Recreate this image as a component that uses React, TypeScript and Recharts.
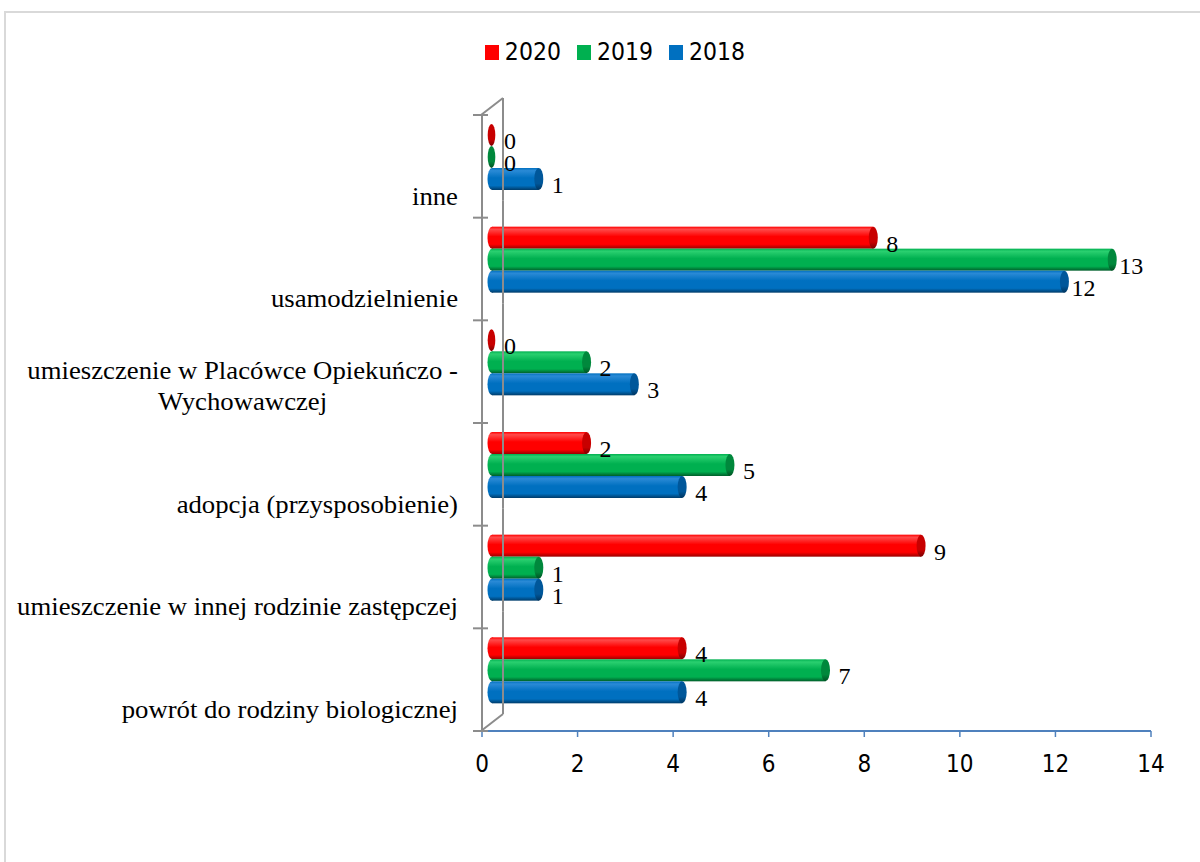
import React from 'react';
import { BarChart, Bar, XAxis, YAxis, Legend, LabelList } from 'recharts';

// ---------- data ----------
const categories = [
  'inne',
  'usamodzielnienie',
  'umieszczenie w Placówce Opiekuńczo - Wychowawczej',
  'adopcja (przysposobienie)',
  'umieszczenie w innej rodzinie zastępczej',
  'powrót do rodziny biologicznej',
];
const values2020 = [0, 8, 0, 2, 9, 4];
const values2019 = [0, 13, 2, 5, 1, 7];
const values2018 = [1, 12, 3, 4, 1, 4];
const seriesNames = ['2020', '2019', '2018'];
const xTicks = [0, 2, 4, 6, 8, 10, 12, 14];

const data = categories.map((c, i) => ({
  category: c,
  s2020: values2020[i],
  s2019: values2019[i],
  s2018: values2018[i],
}));

// ---------- styles ----------
const SERIF = '"Liberation Serif", "Times New Roman", serif';
const SANS = '"DejaVu Sans Condensed", "Noto Sans", sans-serif';

type Pal = { id: string; main: string; light: string; dark: string; cap: string; capDark: string };
const palettes: Record<string, Pal> = {
  s2020: { id: 'r', main: '#ff0000', light: '#ff4a4a', dark: '#9a0000', cap: '#c80000', capDark: '#7a0000' },
  s2019: { id: 'g', main: '#00b050', light: '#2ad070', dark: '#005e2a', cap: '#00883c', capDark: '#004f22' },
  s2018: { id: 'b', main: '#0070c0', light: '#2a8ad6', dark: '#003c6a', cap: '#00579a', capDark: '#00345e' },
};
const legendColors: Record<string, string> = {
  '2020': palettes.s2020.main,
  '2019': palettes.s2019.main,
  '2018': palettes.s2018.main,
};

const Cylinder = (props: any) => {
  const pal: Pal = props.pal;
  const x = Number(props.x) || 0;
  const y = Number(props.y) || 0;
  const w = Math.max(0, Number(props.width) || 0);
  const h = Number(props.height) || 0;
  const top = y - 9;
  const cy = top + h / 2;
  const xs = x + 10;
  const xe = x + w + 9;
  const rx = 4.5;
  const bodyId = `body-${pal.id}`;
  const capId = `cap-${pal.id}`;
  const defs = (
    <defs>
      <linearGradient id={bodyId} x1="0" y1="0" x2="0" y2="1">
        <stop offset="0" stopColor={pal.main} />
        <stop offset="0.12" stopColor={pal.light} />
        <stop offset="0.45" stopColor={pal.main} />
        <stop offset="0.8" stopColor={pal.main} />
        <stop offset="1" stopColor={pal.dark} />
      </linearGradient>
      <linearGradient id={capId} x1="0" y1="0" x2="0" y2="1">
        <stop offset="0" stopColor={pal.cap} />
        <stop offset="0.7" stopColor={pal.cap} />
        <stop offset="1" stopColor={pal.capDark} />
      </linearGradient>
    </defs>
  );
  if (w <= 0.5) {
    return (
      <g>
        {defs}
        <ellipse cx={x + 9.5} cy={cy} rx={3.8} ry={h / 2} fill={`url(#${capId})`} />
      </g>
    );
  }
  return (
    <g>
      {defs}
      <ellipse cx={xs} cy={cy} rx={rx} ry={h / 2} fill={`url(#${bodyId})`} />
      <rect x={xs} y={top} width={Math.max(0, xe - xs)} height={h} fill={`url(#${bodyId})`} />
      <ellipse cx={xe} cy={cy} rx={rx} ry={h / 2} fill={`url(#${capId})`} />
    </g>
  );
};

const renderLabel = (props: any) => {
  const x = Number(props.x) || 0;
  const y = Number(props.y) || 0;
  const w = Math.max(0, Number(props.width) || 0);
  const h = Number(props.height) || 0;
  return (
    <text
      x={x + w + 28}
      y={y + h / 2 - 3}
      textAnchor="middle"
      dominantBaseline="central"
      fontFamily={SERIF}
      fontSize={24}
      fill="#000"
    >
      {props.value}
    </text>
  );
};

let measureCtx: CanvasRenderingContext2D | null = null;
const measureText = (t: string, font: string) => {
  if (!measureCtx) measureCtx = document.createElement('canvas').getContext('2d');
  if (!measureCtx) return t.length * 11;
  measureCtx.font = font;
  return measureCtx.measureText(t).width;
};

const wrapLabel = (s: string, maxChars: number) => {
  const words = s.split(' ');
  const lines: string[] = [];
  let cur = '';
  for (const wd of words) {
    const next = cur ? cur + ' ' + wd : wd;
    if (next.length > maxChars && cur) {
      lines.push(cur);
      cur = wd;
    } else cur = next;
  }
  if (cur) lines.push(cur);
  return lines;
};

const WALL = '#8c8c8c';
const SX = 1.07;

const CategoryTick = (props: any) => {
  const { x, y, payload, index } = props;
  const half = typeof payload?.offset === 'number' && payload.offset > 0 ? payload.offset : 51.33;
  const lines = wrapLabel(String(payload.value), 40);
  const font = `25px "Liberation Serif"`;
  const maxW = Math.max(...lines.map((l) => measureText(l, font))) * SX;
  const right = x - 16;
  const multi = lines.length > 1;
  const lineH = 31;
  const lastY = y + 30;
  const axisX = x + 8;
  const backX = axisX + 21;
  const depth = 17;
  const isLast = index === categories.length - 1;
  return (
    <g>
      {/* back wall of the 3D frame */}
      <line x1={backX} x2={backX} y1={y - half - depth} y2={y + half - depth} stroke={WALL} strokeWidth={2} />
      {index === 0 && (
        <line x1={axisX - 1} y1={y - half} x2={backX} y2={y - half - depth} stroke={WALL} strokeWidth={2} />
      )}
      {isLast && (
        <line x1={axisX - 1} y1={y + half} x2={backX} y2={y + half - depth} stroke={WALL} strokeWidth={2} />
      )}
      {index === 0 && (
        <line x1={x - 1} x2={x + 14} y1={y - half} y2={y - half} stroke={WALL} strokeWidth={2} />
      )}
      <line x1={x - 1} x2={x + 14} y1={y + half} y2={y + half} stroke={WALL} strokeWidth={2} />
      {lines.map((l, i) => {
        const tx = multi ? right - maxW / 2 : right;
        const ty = lastY - (lines.length - 1 - i) * lineH;
        return (
          <text
            key={i}
            transform={`translate(${tx},${ty}) scale(${SX},1)`}
            x={0}
            y={0}
            textAnchor={multi ? 'middle' : 'end'}
            dominantBaseline="central"
            fontFamily={SERIF}
            fontSize={25}
            fill="#000"
          >
            {l}
          </text>
        );
      })}
    </g>
  );
};

const LegendContent = (props: any) => {
  const raw: any[] = props.payload && props.payload.length ? props.payload : [];
  const items = seriesNames.map((n) => {
    const found = raw.find((p: any) => String(p.value) === n);
    return { value: n, color: found?.color || legendColors[n] };
  });
  return (
    <div style={{ display: 'flex', justifyContent: 'center', alignItems: 'center', gap: 16 }}>
      {items.map((p: any, i: number) => (
        <div key={i} style={{ display: 'flex', alignItems: 'center' }}>
          <div style={{ width: 14, height: 15, background: p.color, marginRight: 6 }} />
          <span style={{ fontFamily: SANS, fontSize: 24.5, color: '#000', lineHeight: '28px' }}>{p.value}</span>
        </div>
      ))}
    </div>
  );
};

export default function App() {
  return (
    <div style={{ position: 'absolute', left: 0, top: 0, width: 1200, height: 862, overflow: 'hidden', background: '#fff' }}>
      <div
        style={{
          position: 'absolute',
          left: 4,
          top: 11,
          width: 1220,
          height: 900,
          border: '2px solid #d9d9d9',
          boxSizing: 'border-box',
        }}
      />
      <div style={{ position: 'absolute', left: 0, top: 0 }}>
        <BarChart
          width={1200}
          height={862}
          data={data}
          layout="vertical"
          margin={{ top: 115, right: 49, bottom: 101, left: 0 }}
          barSize={22}
          barGap={0}
        >
          <XAxis
            type="number"
            domain={[0, 14]}
            ticks={xTicks}
            height={30}
            axisLine={{ stroke: '#4f81bd', strokeWidth: 2 }}
            tickLine={{ stroke: '#4f81bd', strokeWidth: 1.5 }}
            tickSize={6}
            tickMargin={18}
            tick={{ fontFamily: SANS, fontSize: 24, fill: '#000' }}
            interval={0}
          />
          <YAxis
            type="category"
            dataKey="category"
            width={482}
            axisLine={{ stroke: WALL, strokeWidth: 2 }}
            tickLine={false}
            tickSize={6}
            tickMargin={2}
            tick={<CategoryTick />}
            interval={0}
          />
          <Legend
            verticalAlign="middle"
            align="center"
            layout="horizontal"
            wrapperStyle={{ top: 38, left: 15, width: 1200 }}
            content={<LegendContent />}
          />
          <Bar
            dataKey="s2020"
            name={seriesNames[0]}
            fill={palettes.s2020.main}
            isAnimationActive={false}
            shape={(p: any) => <Cylinder {...p} pal={palettes.s2020} />}
          >
            <LabelList dataKey="s2020" content={renderLabel} />
          </Bar>
          <Bar
            dataKey="s2019"
            name={seriesNames[1]}
            fill={palettes.s2019.main}
            isAnimationActive={false}
            shape={(p: any) => <Cylinder {...p} pal={palettes.s2019} />}
          >
            <LabelList dataKey="s2019" content={renderLabel} />
          </Bar>
          <Bar
            dataKey="s2018"
            name={seriesNames[2]}
            fill={palettes.s2018.main}
            isAnimationActive={false}
            shape={(p: any) => <Cylinder {...p} pal={palettes.s2018} />}
          >
            <LabelList dataKey="s2018" content={renderLabel} />
          </Bar>
        </BarChart>
      </div>
    </div>
  );
}
